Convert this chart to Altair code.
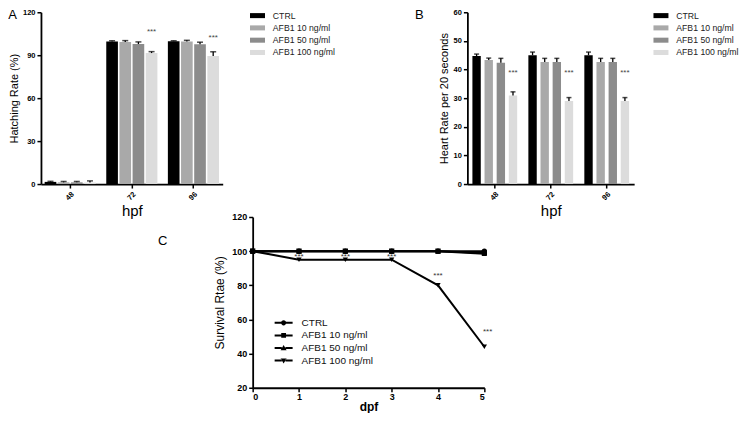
import altair as alt
import pandas as pd

FONT = "Liberation Sans"

# ---------------- data ----------------
hpf = ["48", "72", "96"]
groups = ["CTRL", "AFB1 10 ng/ml", "AFB1 50 ng/ml", "AFB1 100 ng/ml"]
bar_colors = ["#000000", "#a9a9a9", "#8c8c8c", "#dcdcdc"]

# Panel A: hatching rate (%)
hatch_ctrl = [1.5, 99.6, 99.8]
hatch_10 = [1.2, 99.2, 99.6]
hatch_50 = [1.2, 97.8, 97.6]
hatch_100 = [1.0, 91.5, 89.4]
hatch_err_ctrl = [0.4, 0.5, 0.3]
hatch_err_10 = [0.6, 1.0, 0.8]
hatch_err_50 = [0.6, 1.5, 1.5]
hatch_err_100 = [1.2, 1.0, 3.0]
hatch_star_hpf = ["72", "96"]
hatch_star_y = [106.5, 102.0]

# Panel B: heart rate per 20 s
heart_ctrl = [44.7, 45.0, 45.0]
heart_10 = [43.3, 42.6, 42.6]
heart_50 = [42.4, 42.6, 42.6]
heart_100 = [30.9, 29.0, 29.0]
heart_err_ctrl = [0.7, 1.1, 1.1]
heart_err_10 = [0.7, 1.3, 1.3]
heart_err_50 = [1.5, 1.3, 1.3]
heart_err_100 = [1.3, 1.2, 1.2]
heart_star_hpf = ["48", "72", "96"]
heart_star_y = [38.8, 38.8, 38.8]

# Panel C: survival rate (%)
dpf = [0, 1, 2, 3, 4, 5]
series = ["CTRL", "AFB1 10 ng/ml", "AFB1 50 ng/ml", "AFB1 100 ng/ml"]
surv_ctrl = [100, 100, 100, 100, 100, 100]
surv_10 = [100, 100, 100, 100, 100, 99]
surv_50 = [100, 100, 100, 100, 100, 98.5]
surv_100 = [100, 95, 95, 95, 80, 44]
surv_star_dpf = [1, 2, 3, 4, 5.07]
surv_star_y = [96.3, 96.3, 96.3, 85.5, 52.5]
marker_shapes = ["circle", "square", "triangle-up", "triangle-down"]

_seg = "M-2.25,-0.25H-0.45V0.25H-2.25ZM0.45,-0.25H2.25V0.25H0.45Z"
legend_paths = [
    _seg + "M0.65,0A0.65,0.65 0 1,1 -0.65,0A0.65,0.65 0 1,1 0.65,0Z",
    _seg + "M-0.6,-0.6H0.6V0.6H-0.6Z",
    _seg + "M0,-0.75L0.75,0.55H-0.75Z",
    _seg + "M0,0.75L0.75,-0.55H-0.75Z",
]
rect_path = "M-2,-0.67H2V0.67H-2Z"

# ---------------- layout (pixels inside the chart group) ----------------
W, H = 720, 400
A_X, A_Y = [33, 215], [176, 4]
B_X, B_Y = [460, 627], [176, 4]
C_X, C_Y = [245, 477], [380, 209]


# ---------------- tables ----------------
def bar_table(vals, errs):
    rows = []
    for g, v, e in zip(groups, vals, errs):
        for h, vv, ee in zip(hpf, v, e):
            rows.append({"hpf": h, "group": g, "value": vv, "top": vv + ee})
    return pd.DataFrame(rows)

dfA = bar_table([hatch_ctrl, hatch_10, hatch_50, hatch_100],
                [hatch_err_ctrl, hatch_err_10, hatch_err_50, hatch_err_100])
dfB = bar_table([heart_ctrl, heart_10, heart_50, heart_100],
                [heart_err_ctrl, heart_err_10, heart_err_50, heart_err_100])
starsA = pd.DataFrame({"hpf": hatch_star_hpf, "group": "AFB1 100 ng/ml", "value": hatch_star_y, "t": "***"})
starsB = pd.DataFrame({"hpf": heart_star_hpf, "group": "AFB1 100 ng/ml", "value": heart_star_y, "t": "***"})

rowsC = []
for s, vals in zip(series, [surv_ctrl, surv_10, surv_50, surv_100]):
    for d, v in zip(dpf, vals):
        rowsC.append({"dpf": d, "series": s, "value": v})
dfC = pd.DataFrame(rowsC)
starsC = pd.DataFrame({"dpf": surv_star_dpf, "value": surv_star_y, "t": "***"})


def letter(txt, x, y):
    return alt.Chart(pd.DataFrame({"t": [txt]})).mark_text(
        font=FONT, fontSize=13, align="center", baseline="middle", color="black"
    ).encode(x=alt.value(x), y=alt.value(y), text="t:N")


def bar_panel(df, stars, xr, yr, pinX, poX, pinO, ymax, yvals, ytitle, capsize, lx, ly, tpad):
    base = alt.Chart(df)
    x = alt.X("hpf:N", sort=hpf, title="hpf",
              scale=alt.Scale(range=xr, paddingInner=pinX, paddingOuter=poX),
              axis=alt.Axis(orient="bottom", offset=yr[0] - H, labelAngle=-45,
                            labelFontSize=7.5, titleFontSize=15, titleFont=FONT,
                            titleFontWeight="normal", titlePadding=2))
    xo = alt.XOffset("group:N", sort=groups,
                     scale=alt.Scale(domain=groups, paddingInner=pinO, paddingOuter=0))
    y = alt.Y("value:Q", scale=alt.Scale(domain=[0, ymax], nice=False, range=yr),
              axis=alt.Axis(orient="left", offset=-xr[0], values=yvals, title=ytitle,
                            labelFontSize=7.5, titleFont=FONT, titleFontSize=11,
                            titleFontWeight="normal", titlePadding=tpad))
    bars = base.mark_bar().encode(
        x=x, xOffset=xo, y=y,
        color=alt.Color("group:N", sort=groups,
                        scale=alt.Scale(domain=groups, range=bar_colors),
                        legend=alt.Legend(title=None, orient="none", legendX=lx, legendY=ly,
                                          symbolType=rect_path, symbolSize=56.25,
                                          symbolStrokeWidth=0, labelFont=FONT,
                                          labelFontSize=8.7, labelColor="#222",
                                          labelOffset=11, rowPadding=2.3, padding=0)),
    )
    rule = base.mark_rule(color="black", strokeWidth=1.3).encode(
        x=x, xOffset=xo, y="value:Q", y2="top:Q")
    cap = base.mark_tick(color="black", thickness=1.5, size=capsize, orient="horizontal").encode(
        x=x, xOffset=xo, y="top:Q")
    st = alt.Chart(stars).mark_text(font=FONT, fontSize=8, color="#444", baseline="middle").encode(
        x=x, xOffset=xo, y="value:Q", text="t:N")
    return alt.layer(bars, rule, cap, st)


A = alt.layer(
    bar_panel(dfA, starsA, A_X, A_Y, 0.17, 0.06, 0.115, 120, [0, 30, 60, 90, 120],
              "Hatching Rate (%)", 6, 245.5, 3, 3),
    letter("A", 4.5, 7),
)
B = alt.layer(
    bar_panel(dfB, starsB, B_X, B_Y, 0.2, 0.09, 0.31, 60, [0, 10, 20, 30, 40, 50, 60],
              "Heart Rate per 20 seconds", 5, 649.5, 3, 4),
    letter("B", 412, 7),
)

# ---------------- panel C ----------------
xC = alt.X("dpf:Q", scale=alt.Scale(domain=[0, 5], nice=False, range=C_X),
           axis=alt.Axis(orient="bottom", offset=C_Y[0] - H, values=dpf, format="d",
                         labelFontSize=9, labelPadding=1, title="dpf", titleFont=FONT,
                         titleFontSize=12, titleFontWeight="bold", titlePadding=0))
yC = alt.Y("value:Q", scale=alt.Scale(domain=[20, 120], nice=False, range=C_Y),
           axis=alt.Axis(orient="left", offset=-C_X[0], values=[20, 40, 60, 80, 100, 120],
                         labelFontSize=9, title="Survival Rtae (%)",
                         titleFont=FONT, titleFontSize=12, titleFontWeight="normal",
                         titlePadding=5))
baseC = alt.Chart(dfC)
lineC = baseC.mark_line(color="black", strokeWidth=2).encode(x=xC, y=yC, detail="series:N")
markersC = [
    baseC.transform_filter(alt.datum.series == s).mark_point(
        shape=m, filled=True, color="black", size=28, opacity=1).encode(x=xC, y=yC)
    for s, m in zip(series, marker_shapes)
]
legendC = baseC.mark_point(filled=True, color="black", opacity=0).encode(
    x=xC, y=yC,
    shape=alt.Shape("series:N", sort=series,
                    scale=alt.Scale(domain=series, range=legend_paths),
                    legend=alt.Legend(title=None, orient="none", legendX=271, legendY=310,
                                      symbolSize=64, symbolOpacity=1,
                                      symbolFillColor="black", labelFont=FONT,
                                      labelFontSize=10, labelColor="#111",
                                      labelOffset=13, rowPadding=0.6, padding=0)),
)
starC = alt.Chart(starsC).mark_text(font=FONT, fontSize=8, color="#333", baseline="middle").encode(
    x=xC, y="value:Q", text="t:N")
C = alt.layer(lineC, *markersC, legendC, starC, letter("C", 155, 233))

chart = alt.layer(A, B, C).resolve_scale(
    x="independent", y="independent", color="independent",
    xOffset="independent", shape="independent"
).resolve_axis(x="independent", y="independent").properties(
    width=W, height=H, padding=0
).configure_view(stroke=None).configure_axis(
    domainColor="black", domainWidth=1.8, tickColor="black", tickWidth=1.5, tickSize=4,
    labelFont=FONT, labelFontWeight="bold", labelColor="black", labelOverlap=False,
    titleColor="black", grid=False, labelPadding=2
)

chart.save("out.html", embed_options={"renderer": "svg", "actions": False})
